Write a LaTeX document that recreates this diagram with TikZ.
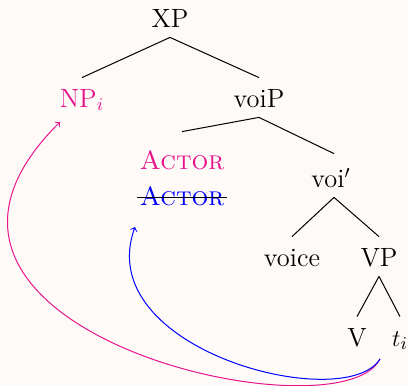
\documentclass[tikz,border=0pt]{standalone}
\usepackage{xcolor}
\definecolor{bgc}{RGB}{253,250,247}
\definecolor{mag}{RGB}{232,20,140}
\definecolor{blu}{RGB}{0,0,255}
\begin{document}
\begin{tikzpicture}[x=0.5pt,y=-0.5pt,
  lbl/.style={anchor=base,inner xsep=1pt,inner ysep=5pt,text height=9.5pt,text depth=0pt,font=\fontsize{13.2}{16}\selectfont},
  branch/.style={line width=0.5pt,black},
  strike/.style={line width=0.5pt,black},
  mov/.style={->,line width=0.5pt}]
\fill[bgc] (0,0) rectangle (408,386);
\useasboundingbox (0,0) rectangle (408,386);
\node[lbl] (xp) at (170,27) {XP};
\node[lbl,text=mag] (np) at (82,107) {NP$_i$};
\node[lbl] (voip) at (259,107) {voiP};
\node[lbl,text=mag] (am) at (182,169) {\textsc{Actor}};
\node[lbl,text=blu] (ab) at (182,205) {\textsc{Actor}};
\node[lbl] (voib) at (331,187) {voi$'$};
\node[lbl] (voice) at (292,266) {voice};
\node[lbl] (vp) at (379,266) {VP};
\node[lbl] (v) at (357,346) {V};
\node[lbl] (t) at (400,346) {$t_i$};
\draw[branch] (xp.south) -- (np.north);
\draw[branch] (xp.south) -- (voip.north);
\draw[branch] (voip.south) -- ([yshift=4pt]am.north);
\draw[branch] (voip.south) -- ([xshift=1.5pt,yshift=2pt]voib.north);
\draw[branch] ([xshift=1.5pt]voib.south) -- (voice.north);
\draw[branch] ([xshift=1.5pt]voib.south) -- (vp.north);
\draw[branch] (vp.south) -- (v.north);
\draw[branch] (vp.south) -- (t.north);
\draw[strike] ([yshift=4pt]ab.base west) -- ([yshift=4pt]ab.base east);
\coordinate (tsrc) at (380,359);
\coordinate (npdst) at (60,122);
\coordinate (abdst) at (135,227);
\draw[mov,mag] (tsrc) .. controls (340,440) and (-150,330) .. (npdst);
\draw[mov,blu] (tsrc) .. controls (345,415) and (90,350) .. (abdst);
\end{tikzpicture}
\end{document}
